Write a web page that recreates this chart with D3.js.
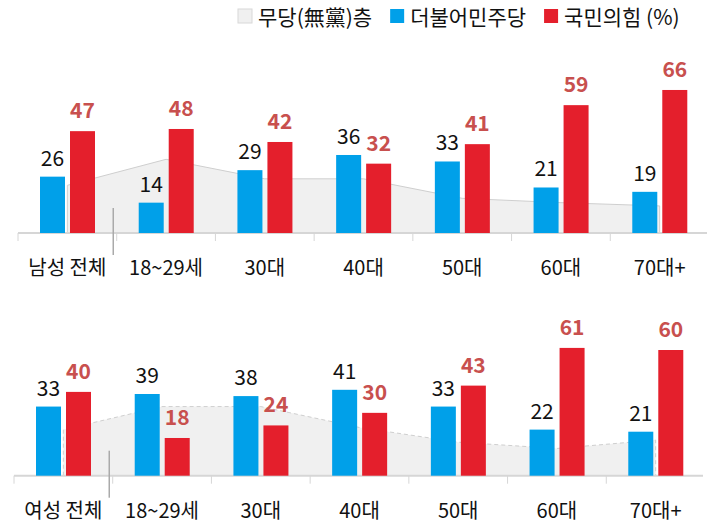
<!DOCTYPE html>
<html>
<head>
<meta charset="utf-8">
<script src="https://cdn.jsdelivr.net/npm/d3@7"></script>
<style>
  body { margin: 0; background: #fff; }
  svg text { font-family: "Noto Sans CJK KR", "Noto Sans", sans-serif; }
</style>
</head>
<body>
<script>
// Data
var maleCategories = ['남성 전체', '18~29세', '30대', '40대', '50대', '60대', '70대+']
var femaleCategories = ['여성 전체', '18~29세', '30대', '40대', '50대', '60대', '70대+']
var maleDem = [26, 14, 29, 36, 33, 21, 19]
var malePpp = [47, 48, 42, 32, 41, 59, 66]
var maleNone = [22, 34, 25, 25, 16, 14, 12.5]
var femaleDem = [33, 39, 38, 41, 33, 22, 21]
var femalePpp = [40, 18, 24, 30, 43, 61, 60]
var femaleNone = [22, 33, 33, 23, 16, 13, 17]
var legendLabels = ['무당(無黨)층', '더불어민주당', '국민의힘 (%)']

;(function () {
  'use strict'

  var W = 707
  var H = 525
  var color = {
    none: '#f0f0f0',
    noneLine: '#cfcfcf',
    dem: '#00a0e9',
    ppp: '#e41f2c',
    pppText: '#c8504e',
    axis: '#d6d6d6'
  }

  var svg = d3.select('body').append('svg')
    .attr('width', W)
    .attr('height', H)

  drawLegend(svg)

  drawPanel(svg, {
    cats: maleCategories, dem: maleDem, ppp: malePpp, none: maleNone,
    x0: 18, x1: 709, base: 233, unit: 2.167, dashed: false
  })
  drawPanel(svg, {
    cats: femaleCategories, dem: femaleDem, ppp: femalePpp, none: femaleNone,
    x0: 14, x1: 705, base: 475.7, unit: 2.095, dashed: true
  })

  function drawPanel (ctx, p) {
    var x = d3.scaleBand().domain(p.cats).range([p.x0, p.x1])
    var y = d3.scaleLinear().domain([0, 100]).range([p.base, p.base - 100 * p.unit])
    var g = ctx.append('g')
    var bw = 25
    var offDem = 22
    var offPpp = 52
    var mid = function (i) { return x(p.cats[i]) + x.bandwidth() / 2 }

    // 무당층 area
    var area = d3.area()
      .x(function (d, i) { return mid(i) })
      .y0(y(0))
      .y1(function (d) { return y(d) })
    g.append('path')
      .attr('d', area(p.none))
      .attr('fill', color.none)
      .attr('stroke', 'none')
    var last = p.none.length - 1
    var pts = [0].concat(p.none).concat([0])
    g.append('path')
      .attr('d', d3.line()
        .x(function (d, i) { return mid(Math.min(Math.max(i - 1, 0), last)) })
        .y(function (d) { return y(d) })(pts))
      .attr('fill', 'none')
      .attr('stroke', color.noneLine)
      .attr('stroke-width', 1)
      .attr('stroke-dasharray', p.dashed ? '4,3' : null)

    // axis
    var axis = d3.axisBottom(x).tickSizeInner(0).tickSizeOuter(0).tickFormat('')
    var ax = g.append('g')
      .attr('transform', 'translate(0,' + p.base + ')')
      .call(axis)
    ax.select('.domain').attr('stroke', color.axis).attr('stroke-width', 2)
      .attr('d', 'M' + p.x0 + ',0H' + (p.x1 - 2))
    ax.selectAll('.tick').remove()
    ax.selectAll('.sep').data(p.cats).enter().append('line')
      .attr('class', 'sep')
      .attr('x1', function (d) { return x(d) })
      .attr('x2', function (d) { return x(d) })
      .attr('y1', 0)
      .attr('y2', 8)
      .attr('stroke', color.axis)
      .attr('stroke-width', 1)

    // bars
    g.selectAll('.dem').data(p.dem).enter().append('rect')
      .attr('x', function (d, i) { return x(p.cats[i]) + offDem })
      .attr('y', function (d) { return y(d) })
      .attr('width', bw)
      .attr('height', function (d) { return y(0) - y(d) })
      .attr('fill', color.dem)
    g.selectAll('.ppp').data(p.ppp).enter().append('rect')
      .attr('x', function (d, i) { return x(p.cats[i]) + offPpp })
      .attr('y', function (d) { return y(d) })
      .attr('width', bw)
      .attr('height', function (d) { return y(0) - y(d) })
      .attr('fill', color.ppp)

    // value labels
    g.selectAll('.demlab').data(p.dem).enter().append('text')
      .attr('x', function (d, i) { return x(p.cats[i]) + offDem + bw / 2 })
      .attr('y', function (d) { return y(d) - 11 })
      .attr('text-anchor', 'middle')
      .attr('font-size', 21)
      .attr('fill', '#111')
      .text(function (d) { return d })
    g.selectAll('.ppplab').data(p.ppp).enter().append('text')
      .attr('x', function (d, i) { return x(p.cats[i]) + offPpp + bw / 2 })
      .attr('y', function (d) { return y(d) - 13 })
      .attr('text-anchor', 'middle')
      .attr('font-size', 21)
      .attr('font-weight', 'bold')
      .attr('fill', color.pppText)
      .text(function (d) { return d })

    // category labels
    g.selectAll('.cat').data(p.cats).enter().append('text')
      .attr('x', function (d) { return x(d) + x.bandwidth() / 2 })
      .attr('y', p.base + 42)
      .attr('text-anchor', 'middle')
      .attr('font-size', 20)
      .attr('fill', '#111')
      .text(function (d) { return d })

    // pointer to the 무당층 area
    var px = x(p.cats[0]) + x.bandwidth() * 0.965
    g.append('line')
      .attr('x1', px).attr('x2', px)
      .attr('y1', p.base - 25).attr('y2', p.base + 22)
      .attr('stroke', '#aaa')
      .attr('stroke-width', 1.5)
  }

  function drawLegend (ctx) {
    var fills = [color.none, color.dem, color.ppp]
    var lg = ctx.append('g')
    var cx = 238
    legendLabels.forEach(function (t, i) {
      lg.append('rect')
        .attr('x', cx).attr('y', 9)
        .attr('width', 14).attr('height', 14)
        .attr('fill', fills[i])
        .attr('stroke', i === 0 ? '#d8d8d8' : 'none')
      var txt = lg.append('text')
        .attr('x', cx + 20).attr('y', 24.6)
        .attr('font-size', 21)
        .attr('fill', '#111')
        .text(t)
      cx = cx + 20 + txt.node().getComputedTextLength() + 18
    })
  }
}())
</script>
</body>
</html>
